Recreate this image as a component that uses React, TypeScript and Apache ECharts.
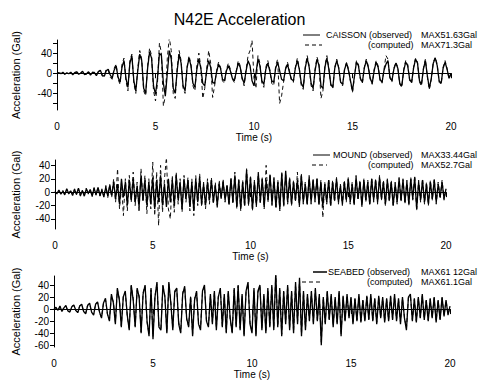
import { useEffect, useRef } from "react";
import * as echarts from "echarts";

const DT = 0.1;
const X_LABELS = [0, 5, 10, 15, 20];
const CAISSON_Y_LABELS = [40, 0, -40];
const CAISSON_Y_TICKS = [60, 40, 20, 0, -20, -40, -60];
const MOUND_Y_LABELS = [40, 20, 0, -20, -40];
const SEABED_Y_LABELS = [40, 20, 0, -20, -40, -60];

const caissonObserved = [
  0, 1, -1, 2, -2, 1, -1, 2, -3, 1,
  3, -2, 0, 4, -3, -1, 3, -4, 2, 1,
  -5, 3, 6, -4, -6, 5, 8, -3, -10, 6,
  15, -8, -18, 12, 25, -10, -28, 20, 35, -15,
  -35, 5, 38, 25, -30, -40, 10, 42, 30, -25,
  -42, -10, 40, 35, -20, -45, 0, 45, 28, -30,
  -40, 5, 38, 20, -25, -35, 10, 30, 15, -20,
  -28, 8, 28, 10, -20, -25, 5, 25, 12, -18,
  -20, 2, 18, 10, -12, -15, 5, 15, 5, -10,
  -15, 3, 20, 12, -10, -20, 5, 25, 15, -15,
  -25, 0, 28, 15, -15, -22, 8, 20, 5, -15,
  -18, 10, 22, 5, -12, -15, 8, 18, 2, -12,
  -15, 10, 25, 8, -20, -28, 10, 30, 12, -20,
  -30, 5, 28, 15, -25, -30, 12, 30, 8, -22,
  -28, 10, 25, 10, -18, -22, 8, 20, 5, -15,
  -35, -5, 22, 15, -10, -18, 10, 25, 12, -10,
  -20, 5, 22, 12, -12, -18, 6, 18, 25, -8,
  -15, 8, 20, 10, -20, -25, 5, 22, 15, -12,
  -18, 10, 28, 20, -15, -22, 8, 25, -5, -30,
  -10, 20, 30, 15, -15, -20, 10, 22, 8, -10,
  0,
];

const caissonComputed = [
  1, -1, 2, 0, -2, 2, -1, 1, -2, 2,
  2, -3, 1, 3, -2, -2, 4, -3, 1, 2,
  -4, 4, 5, -6, -5, 8, 6, -8, -12, 10,
  18, -12, -22, 18, 30, -15, -35, 25, 38, -20,
  -40, 10, 45, 28, -35, -45, 15, 50, 35, -35,
  -55, -20, 60, 40, -65, -45, 30, 71, 45, -40,
  -50, 10, 45, 25, -30, -40, 12, 35, 18, -25,
  -35, 15, 40, 12, -50, -30, 10, 45, 20, -48,
  -25, 5, 22, 12, -15, -20, 8, 20, 8, -12,
  -18, 5, 25, 15, -12, -25, 8, 35, 45, 65,
  -10, -30, 35, 20, -20, -28, 12, 25, 8, -20,
  -25, 15, 28, -60, -45, -18, 10, 22, 5, -15,
  -18, 12, 30, 10, -25, -32, 12, 35, 15, -25,
  -35, 8, 32, 18, -50, -35, 15, 35, 10, -25,
  -30, 12, 28, 12, -20, -25, 10, 22, 8, -18,
  -38, -8, 25, 18, -12, -20, 12, 28, 15, -12,
  -22, 8, 25, 15, -15, -20, 8, 35, 28, -10,
  -18, 10, 22, 12, -22, -28, 8, 25, 18, -15,
  -20, 12, 30, 22, -18, -25, 10, 28, -8, -32,
  -12, 22, 32, 18, -18, -22, 12, 25, 10, -12,
  0,
];

const moundObserved = [
  0, -2, 3, -3, 1, -4, 5, -2, 2, -5,
  4, -3, 6, -5, 2, -6, 5, -2, 4, -6,
  6, -4, 7, -5, 3, -7, 8, -6, 10, -5,
  15, -10, 12, -18, 20, -8, 15, -20, 18, -12,
  20, -15, 10, -22, 25, -12, 18, -20, 15, -18,
  22, -25, 18, -15, 25, -20, 12, -22, 20, -15,
  18, -20, 25, -12, 15, -25, 20, -10, 18, -22,
  15, -28, 20, -15, 22, -18, 12, -20, 15, -12,
  18, -15, 10, -20, 12, -8, 15, -12, 10, -18,
  20, -15, 25, -22, 18, -25, 15, -20, 33, -18,
  22, -25, 15, -20, 28, -15, 20, -22, 18, -12,
  25, -18, 20, -22, 15, -25, 28, -20, 32, -15,
  20, -18, 15, -12, 18, -20, 25, -15, 12, -18,
  22, -15, 18, -12, 20, -18, 15, -22, 12, -15,
  18, -20, 15, -12, 20, -15, 10, -18, 15, -12,
  20, -15, 12, -18, 22, -10, 15, -20, 18, -12,
  15, -18, 20, -12, 18, -15, 22, -10, 15, -18,
  18, -12, 15, -20, 12, -15, 20, -12, 18, -15,
  15, -18, 20, -10, 22, -25, 15, -12, 18, -15,
  12, -18, 15, -10, 18, -15, 12, -8, 15, -10,
  5,
];

const moundComputed = [
  1, -3, 2, -2, 3, -3, 4, -3, 3, -4,
  5, -4, 5, -6, 3, -5, 6, -3, 5, -7,
  7, -5, 8, -6, 5, -8, 10, -8, 12, -8,
  20, -15, 35, -25, 15, -35, 20, -28, 25, -15,
  30, -20, 15, -30, 35, -15, 25, -32, 20, -25,
  45, -35, 30, -50, 40, -30, 20, 52, -25, -40,
  25, -30, 30, -18, 20, -30, 25, -15, 22, -28,
  20, -35, 25, -20, 28, -22, 15, -25, 20, -18,
  22, -18, 15, -25, 18, -12, 20, -15, 12, -20,
  22, -18, 30, -25, 20, -28, 18, -22, 35, -20,
  25, -28, 18, -22, 30, -18, 22, -25, 40, -15,
  28, -20, 22, -25, 18, -28, 30, -22, 28, -18,
  22, -20, 18, -15, 30, -22, 28, -18, 15, -20,
  25, -18, 20, -15, 22, -20, 18, -38, 15, -18,
  20, -22, 18, -15, 22, -18, 12, -20, 18, -15,
  22, -18, 15, -20, 25, -12, 18, -22, 20, -15,
  18, -20, 22, -15, 20, -18, 25, -12, 18, -20,
  20, -15, 18, -22, 15, -18, 22, -15, 20, -18,
  18, -20, 22, -12, 25, -28, 18, -15, 20, -18,
  15, -20, 18, -12, 20, -18, 15, -10, 18, -12,
  5,
];

const seabedObserved = [
  0, 3, -2, 5, -4, 2, 6, -3, -5, 4,
  7, -2, -6, 5, 8, -4, -8, 6, 10, -5,
  -10, 8, 12, -5, -15, 10, 18, -8, -20, 25,
  10, -25, 35, 15, -30, 20, 30, -10, -35, 40,
  15, -30, 35, 20, -40, 25, 40, -20, -45, 35,
  -50, 20, 45, -30, -35, 40, 20, -40, 45, 10,
  -35, 30, 35, -25, -40, 25, 38, -15, -30, 20,
  -45, 15, 30, -25, -35, 30, 40, -20, -30, 25,
  -25, 30, -35, 20, 35, -30, 25, -40, 30, -15,
  -40, 35, -30, 40, -35, 25, -45, 30, 45, -25,
  -40, 35, -45, 30, 40, -35, 25, -40, 35, -30,
  40, -35, 61, -30, 35, -45, 30, -25, 40, -35,
  30, -40, 45, -25, 52, -45, 30, -35, 25, -20,
  30, -25, 35, -20, 25, -60, 20, -25, 30, -18,
  25, -30, 20, -25, 30, -45, 22, -20, 25, -15,
  20, -25, 18, -20, 25, -22, 15, -20, 22, -18,
  25, -20, 18, -25, 22, -15, 20, -22, 18, -20,
  22, -18, 25, -20, 18, -25, 20, -15, -35, 20,
  25, -20, 18, -22, 20, -15, 25, -18, 15, -20,
  18, -15, 20, -22, 15, -18, 20, -12, 15, -10,
  5,
];

const seabedComputed = [
  1, 2, -3, 4, -3, 3, 5, -4, -4, 5,
  6, -3, -5, 6, 7, -5, -7, 7, 9, -6,
  -9, 9, 11, -6, -14, 11, 16, -9, -18, 22,
  12, -22, 32, 18, -28, 22, 28, -12, -32, 38,
  18, -28, 32, 22, -38, 28, 38, -22, -42, 32,
  -46, 22, 42, -28, -32, 38, 22, -38, 42, 12,
  -32, 28, 32, -22, -38, 28, 35, -18, -28, 22,
  -42, 18, 28, -22, -32, 28, 38, -18, -28, 22,
  -22, 28, -32, 22, 32, -28, 22, -38, 28, -18,
  -38, 32, -28, 38, -32, 22, -42, 28, 42, -22,
  -38, 32, -42, 28, 38, -32, 22, -38, 32, -28,
  38, -32, 58, -28, 32, -42, 28, -22, 38, -32,
  28, -38, 42, -22, 48, -42, 28, -32, 22, -18,
  28, -22, 32, -18, 22, -55, 18, -22, 28, -16,
  22, -28, 18, -22, 28, -42, 20, -18, 22, -14,
  18, -22, 16, -18, 22, -20, 14, -18, 20, -16,
  22, -18, 16, -22, 20, -14, 18, -20, 16, -18,
  20, -16, 22, -18, 16, -22, 18, -14, -32, 18,
  22, -18, 16, -20, 18, -14, 22, -16, 14, -18,
  16, -14, 18, -20, 14, -16, 18, -11, 14, -9,
  4,
];

const LEGEND_NAMES = ["CAISSON (observed)", "MOUND (observed)", "SEABED (observed)"];
const LEGEND_OBS_MAX = ["MAX51.63Gal", "MAX33.44Gal", "MAX61 12Gal"];
const LEGEND_COMP_MAX = ["MAX71.3Gal", "MAX52.7Gal", "MAX61.1Gal"];

const FONT = "Liberation Sans, Arial, Helvetica, sans-serif";

const toPairs = (arr: number[]) => arr.map((v, i) => [Math.round(i * DT * 10) / 10, v]);

export default function App() {
  const ref = useRef<HTMLDivElement>(null);

  useEffect(() => {
    document.body.style.margin = "0";
    if (!ref.current) return;
    const chart = echarts.init(ref.current, undefined, { renderer: "svg" });

    const grids = [
      { left: 57, right: 28, top: 40, height: 70 },
      { left: 55, right: 33, top: 160, height: 69 },
      { left: 54, right: 29, top: 276, height: 71 },
    ];
    const yRanges = [
      { min: -73, max: 66, labels: CAISSON_Y_LABELS, ticks: CAISSON_Y_TICKS, gap: 36 },
      { min: -55, max: 48, labels: MOUND_Y_LABELS, ticks: MOUND_Y_LABELS, gap: 34 },
      { min: -63, max: 55, labels: SEABED_Y_LABELS, ticks: SEABED_Y_LABELS, gap: 33 },
    ];

    const xAxis = grids.map((_, i) => ({
      type: "value",
      gridIndex: i,
      min: 0,
      max: 20,
      interval: 5,
      axisLine: { show: true, lineStyle: { color: "#000", width: 1 } },
      axisTick: { show: true, length: 5, lineStyle: { color: "#000" }, customValues: X_LABELS },
      axisLabel: { color: "#000", fontSize: 10, fontFamily: FONT, margin: 11, customValues: X_LABELS },
      splitLine: { show: false },
      name: "Time (s)",
      nameLocation: "middle",
      nameGap: 22,
      nameTextStyle: { color: "#000", fontSize: 10, fontFamily: FONT },
    }));

    const yAxis = yRanges.map((r, i) => ({
      type: "value",
      gridIndex: i,
      min: r.min,
      max: r.max,
      axisLine: { show: true, onZero: false, lineStyle: { color: "#000", width: 1 } },
      axisTick: { show: true, length: 4, lineStyle: { color: "#000" }, customValues: r.ticks },
      axisLabel: { color: "#000", fontSize: 10, fontFamily: FONT, margin: 5, customValues: r.labels },
      splitLine: { show: false },
      name: "Acceleration (Gal)",
      nameLocation: "middle",
      nameRotate: 90,
      nameGap: r.gap,
      nameTextStyle: { color: "#000", fontSize: 11, fontFamily: FONT },
    }));

    const pairs = [
      [caissonObserved, caissonComputed],
      [moundObserved, moundComputed],
      [seabedObserved, seabedComputed],
    ];

    const series: any[] = [];
    pairs.forEach(([obs, comp], i) => {
      series.push({
        type: "line",
        xAxisIndex: i,
        yAxisIndex: i,
        data: toPairs(comp),
        showSymbol: false,
        symbol: "none",
        lineStyle: { color: "#111", width: 1, type: [4, 3] },
        z: 2,
      });
      series.push({
        type: "line",
        xAxisIndex: i,
        yAxisIndex: i,
        data: toPairs(obs),
        showSymbol: false,
        symbol: "none",
        lineStyle: { color: "#000", width: 1.3 },
        z: 3,
        markLine: {
          silent: true,
          symbol: "none",
          label: { show: false },
          lineStyle: { color: "#000", width: 1, type: "solid" },
          data: [{ yAxis: 0 }],
        },
      });
    });

    const legendRows = [
      { y1: 35, y2: 45, solid: [303, 320], dash: [305, 322], nameX: 326, compX: 368, maxX: 421 },
      { y1: 155, y2: 165, solid: [313, 330], dash: [312, 327], nameX: 333, compX: 368, maxX: 421 },
      { y1: 272, y2: 282, solid: [313, 327], dash: [302, 322], nameX: 328, compX: 367, maxX: 421 },
    ];
    const textStyle = (text: string, x: number, y: number) => ({
      type: "text",
      x,
      y,
      style: { text, fill: "#000", fontSize: 9, fontFamily: FONT, verticalAlign: "middle", align: "left" },
    });
    const graphic: any[] = [];
    legendRows.forEach((r, i) => {
      graphic.push({
        type: "line",
        shape: { x1: r.solid[0], y1: r.y1, x2: r.solid[1], y2: r.y1 },
        style: { stroke: "#000", lineWidth: i === 2 ? 1.5 : 1 },
      });
      graphic.push({
        type: "line",
        shape: { x1: r.dash[0], y1: r.y2, x2: r.dash[1], y2: r.y2 },
        style: { stroke: "#000", lineWidth: 1, lineDash: [4, 3] },
      });
      graphic.push(textStyle(LEGEND_NAMES[i], r.nameX, r.y1));
      graphic.push(textStyle(LEGEND_OBS_MAX[i], r.maxX, r.y1));
      graphic.push(textStyle("(computed)", r.compX, r.y2));
      graphic.push(textStyle(LEGEND_COMP_MAX[i], r.maxX, r.y2));
    });

    chart.setOption({
      animation: false,
      backgroundColor: "#fff",
      title: {
        text: "N42E Acceleration",
        left: "center",
        top: 6,
        textStyle: { fontSize: 16, fontWeight: "normal", fontFamily: FONT, color: "#000" },
      },
      grid: grids,
      xAxis,
      yAxis,
      series,
      graphic,
    });

    return () => chart.dispose();
  }, []);

  return <div ref={ref} style={{ width: 479, height: 382 }} />;
}
